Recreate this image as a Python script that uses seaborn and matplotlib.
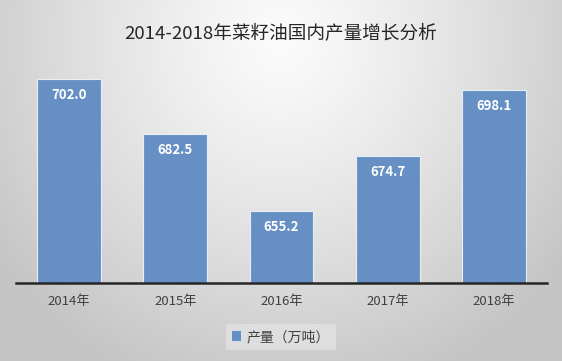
import numpy as np
import pandas as pd
import matplotlib
matplotlib.use("Agg")
import matplotlib.pyplot as plt
import seaborn as sns
from matplotlib.patches import Patch

years = ["2014年", "2015年", "2016年", "2017年", "2018年"]
output = [702.0, 682.5, 655.2, 674.7, 698.1]
title = "2014-2018年菜籽油国内产量增长分析"
series_name = "产量（万吨）"

sns.set_theme(style="white")
plt.rcParams['font.family'] = ['Noto Sans CJK SC', 'DejaVu Sans']

W, H = 562, 361
fig = plt.figure(figsize=(W / 100, H / 100), dpi=100)

# background radial gradient
bg = fig.add_axes([0, 0, 1, 1], zorder=-10)
yy, xx = np.mgrid[0:H, 0:W]
cx, cy = W / 2, 40
r = np.sqrt(((xx - cx) / (W * 0.62)) ** 2 + ((yy - cy) / (H * 1.0)) ** 2)
r = np.clip(r, 0, 1)
val = 0.985 - (0.985 - 0.775) * r ** 1.2
img = np.dstack([val, val, val])
bg.imshow(img, aspect='auto', extent=[0, 1, 0, 1], origin='upper')
bg.axis('off')

df = pd.DataFrame({"year": years, "value": output})

left, right = 16 / W, 547 / W
bottom = (H - 282.5) / H
ymin, ymax = 630, 712
top_px = 282.5 - (ymax - ymin) * 2.82
ax = fig.add_axes([left, bottom, right - left, (282.5 - top_px) / H])
ax.set_facecolor('none')

sns.barplot(data=df, x="year", y="value", color="#6690c4", saturation=1,
            width=0.6, edgecolor="#e8eef6", linewidth=0.8, ax=ax)
ax.set_ylim(ymin, ymax)
ax.set_xlim(-0.5, 4.5)
ax.set_xlabel("")
ax.set_ylabel("")
ax.set_yticks([])
for s in ["top", "right", "left"]:
    ax.spines[s].set_visible(False)
ax.spines["bottom"].set_color("#262626")
ax.spines["bottom"].set_linewidth(1.8)
ax.tick_params(axis='x', length=0, pad=9, labelsize=9.5, colors="#404040")
for lab in ax.get_xticklabels():
    lab.set_fontweight("medium")

for c in ax.containers:
    ax.bar_label(c, labels=[f"{v:.1f}" for v in output], padding=-16,
                 color="white", fontsize=9.5, fontweight="bold")

fig.text(0.5, 1 - 33 / H, title, ha='center', va='center', fontsize=13.4,
         color="#262626")

leg = fig.legend(handles=[Patch(facecolor="#6690c4", edgecolor="none")],
                 labels=[series_name], loc='center',
                 bbox_to_anchor=(281 / W, 1 - 337 / H), frameon=True,
                 fontsize=10, handlelength=0.7, handleheight=0.7,
                 handletextpad=0.4, borderpad=0.4, fancybox=False)
leg.get_frame().set_facecolor("#e2e2e2")
leg.get_frame().set_edgecolor("none")
leg.get_frame().set_alpha(0.8)
for t in leg.get_texts():
    t.set_color("#404040")

fig.savefig("out.png", dpi=100)
